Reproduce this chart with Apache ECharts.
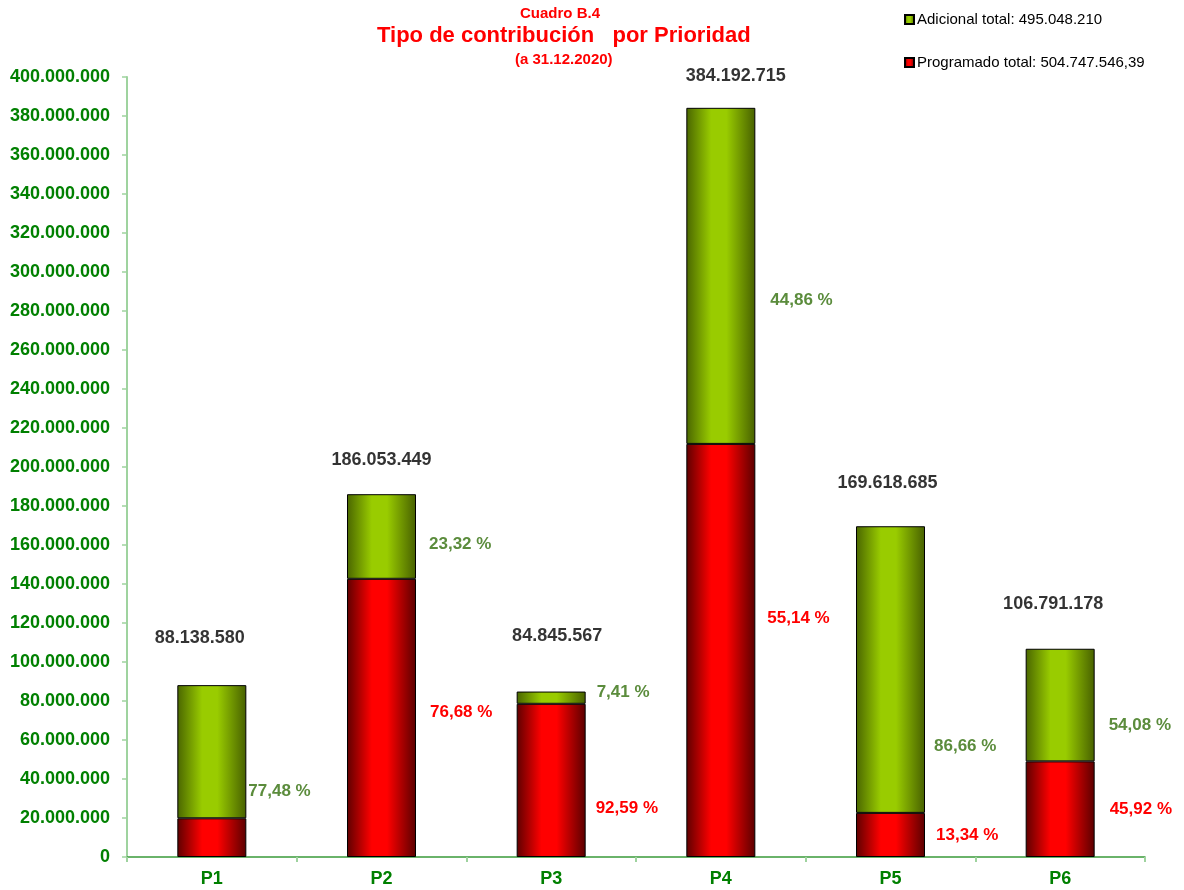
<!DOCTYPE html>
<html>
<head>
<meta charset="utf-8">
<title>Tipo de contribución por Prioridad</title>
<script src="https://cdn.jsdelivr.net/npm/echarts@6/dist/echarts.min.js"></script>
<style>
  html, body { margin: 0; padding: 0; background: #fff; }
  #main { width: 1184px; height: 890px; }
</style>
</head>
<body>
<div id="main"></div>
<script>
// datos
const categorias = ['P1', 'P2', 'P3', 'P4', 'P5', 'P6'];
const programado = [19848808, 142665785, 78558511, 211843863, 22627133, 49038509];
const adicional = [68289772, 43387664, 6287056, 172348852, 146991552, 57752669];
const totales = [88138580, 186053449, 84845567, 384192715, 169618685, 106791178];
const pctProgramado = [null, '76,68 %', '92,59 %', '55,14 %', '13,34 %', '45,92 %'];
const pctAdicional = ['77,48 %', '23,32 %', '7,41 %', '44,86 %', '86,66 %', '54,08 %'];
const nombreAdicional = 'Adicional total: 495.048.210';
const nombreProgramado = 'Programado total: 504.747.546,39';

// desplazamientos de etiquetas (px)
const offTotal = [[-12, -38], [0, -25], [6, -47], [15, -23], [-3, -34], [-7, -36]];
const offAdic = [[2, 40], [13, 8], [11, -5], [15, 24], [9, 77], [14, 20]];
const offProg = [[0, 0], [14, -6], [10, 28], [12, -32], [11, 0], [15, 0]];

const FONT = '"Liberation Sans", Arial, sans-serif';

function miles(v) {
  return String(v).replace(/\B(?=(\d{3})+(?!\d))/g, '.');
}

const rojo = new echarts.graphic.LinearGradient(0, 0, 1, 0, [
  { offset: 0, color: '#5e0000' },
  { offset: 0.36, color: '#ff0000' },
  { offset: 0.58, color: '#ff0000' },
  { offset: 1, color: '#5a0000' }
]);
const verde = new echarts.graphic.LinearGradient(0, 0, 1, 0, [
  { offset: 0, color: '#4a6600' },
  { offset: 0.36, color: '#99cc00' },
  { offset: 0.58, color: '#99cc00' },
  { offset: 1, color: '#476000' }
]);

const chart = echarts.init(document.getElementById('main'));

const option = {
  animation: false,
  textStyle: { fontFamily: FONT },
  graphic: [
    { type: 'text', left: 520, top: 6, style: { text: 'Cuadro B.4', fill: '#ff0000', font: 'bold 15px ' + FONT } },
    { type: 'text', left: 377, top: 25, style: { text: 'Tipo de contribución   por Prioridad', fill: '#ff0000', font: 'bold 22px ' + FONT } },
    { type: 'text', left: 515, top: 52, style: { text: '(a 31.12.2020)', fill: '#ff0000', font: 'bold 15px ' + FONT } }
  ],
  legend: {
    data: [nombreAdicional, nombreProgramado],
    orient: 'vertical',
    left: 899,
    top: 7,
    itemWidth: 9,
    itemHeight: 9,
    itemGap: 28,
    icon: 'rect',
    textStyle: { color: '#000', fontSize: 15, fontFamily: FONT, padding: [0, 0, 0, -2] }
  },
  grid: { left: 127, right: 39, top: 77, bottom: 33 },
  xAxis: {
    type: 'category',
    data: categorias,
    axisLine: { lineStyle: { color: '#3a9a3a', width: 1.5 } },
    axisTick: { show: true, length: 5, lineStyle: { color: '#9fd39f', width: 2 } },
    axisLabel: { color: '#008000', fontWeight: 'bold', fontSize: 18, margin: 13, fontFamily: FONT }
  },
  yAxis: {
    type: 'value',
    min: 0,
    max: 400000000,
    interval: 20000000,
    splitLine: { show: false },
    axisLine: { show: true, lineStyle: { color: '#9fd39f', width: 2 } },
    axisTick: { show: true, length: 5, lineStyle: { color: '#9fd39f', width: 1.5 } },
    axisLabel: {
      color: '#008000', fontWeight: 'bold', fontSize: 18, margin: 17, fontFamily: FONT,
      formatter: miles
    }
  },
  series: [
    {
      name: nombreProgramado,
      type: 'bar',
      stack: 'total',
      barWidth: 69,
      itemStyle: { color: rojo, borderColor: '#000', borderWidth: 1 },
      label: {
        show: true, position: 'right', distance: 0,
        color: '#ff0000', fontWeight: 'bold', fontSize: 17, fontFamily: FONT
      },
      data: programado.map((v, i) => ({
        value: v,
        label: pctProgramado[i]
          ? { show: true, offset: offProg[i], formatter: pctProgramado[i] }
          : { show: false }
      }))
    },
    {
      name: nombreAdicional,
      type: 'bar',
      stack: 'total',
      barWidth: 69,
      itemStyle: { color: verde, borderColor: '#000', borderWidth: 1 },
      label: {
        show: true, position: 'right', distance: 0,
        color: '#5b8c3c', fontWeight: 'bold', fontSize: 17, fontFamily: FONT
      },
      data: adicional.map((v, i) => ({
        value: v,
        label: { offset: offAdic[i], formatter: pctAdicional[i] }
      }))
    },
    {
      name: 'Total',
      type: 'scatter',
      symbolSize: 0,
      z: 5,
      label: {
        show: true, position: 'top', distance: 0,
        color: '#000000', fontWeight: 'bold', fontSize: 18, fontFamily: FONT,
        formatter: p => miles(p.value)
      },
      data: totales.map((v, i) => ({ value: v, label: { offset: offTotal[i] } }))
    }
  ]
};

chart.setOption(option);
</script>
</body>
</html>
